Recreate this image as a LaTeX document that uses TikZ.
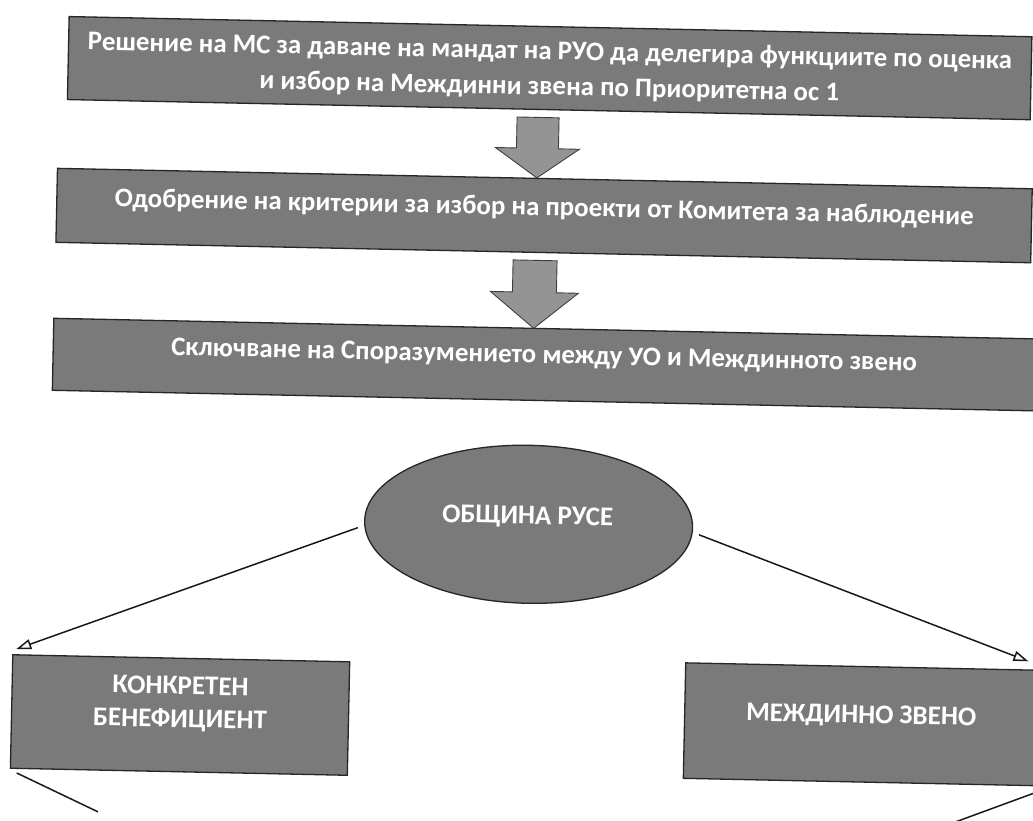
\documentclass[tikz,border=0pt]{standalone}
\usepackage{fontspec}
\setmainfont{Carlito}
\usetikzlibrary{arrows.meta,shapes.geometric}
\begin{document}
\begin{tikzpicture}[x=1pt,y=-1pt,
  box/.style={draw=black!85, line width=1.3pt, fill=black!52, inner sep=0pt},
  lbl/.style={text=white, font=\bfseries\fontsize{26.9}{35.5}\selectfont, inner sep=0pt, align=center},
  bigarrow/.style={draw=black!75, line width=0.9pt, fill=black!42},
  conn/.style={draw=black!90, line width=1.5pt},
  tipo/.style={-{Triangle[open,length=15pt,width=10pt,fill=white]}}]
\useasboundingbox (0,0) rectangle (1033,821);
\fill[white] (0,0) rectangle (1033,821);
\clip (0,0) rectangle (1033,821);
\begin{scope}[rotate around={-1.2:(516,410)}, transform shape]
  % top boxes
  \node[box, minimum width=963pt, minimum height=83pt] (b1) at (542.5,67.5) {};
  \node[lbl] (t1) at (542.5,69.5) {Решение на МС за даване на мандат на РУО да делегира функциите по оценка\\и избор на Междинни звена по Приоритетна ос 1};
  \node[box, minimum width=975pt, minimum height=74pt] (b2) at (540,215) {};
  \node[lbl] (t2) at (540,208) {Одобрение на критерии за избор на проекти от Комитета за наблюдение};
  \node[box, minimum width=982pt, minimum height=72pt] (b3) at (543,364) {};
  \node[lbl] (t3) at (543,356) {Сключване на Споразумението между УО и Междинното звено};
  % block arrows
  \coordinate (a1) at (532,117);
  \draw[bigarrow] (a1) ++(-21,0) -- ++(42,0) -- ++(0,31) -- ++(21,0) -- ++(-42,29.5) -- ++(-42,-29.5) -- ++(21,0) -- cycle;
  \coordinate (a2) at (532,260);
  \draw[bigarrow] (a2) ++(-22,0) -- ++(44,0) -- ++(0,32) -- ++(22,0) -- ++(-44,36) -- ++(-44,-36) -- ++(22,0) -- cycle;
  % ellipse
  \node[box, ellipse, minimum width=328pt, minimum height=158pt] (ell) at (531,524) {};
  \node[lbl, font=\bfseries\fontsize{27}{33}\selectfont] (te) at (530,517) {ОБЩИНА РУСЕ};
  % lower boxes
  \node[box, minimum width=337pt, minimum height=113.5pt] (kb) at (186.5,722) {};
  \node[lbl, font=\bfseries\fontsize{27}{33}\selectfont] (tk) at (186.5,711) {КОНКРЕТЕН\\БЕНЕФИЦИЕНТ};
  \node[box, minimum width=353pt, minimum height=115.5pt] (mz) at (867.5,717) {};
  \node[lbl, font=\bfseries\fontsize{27}{33}\selectfont] (tm) at (867.5,709) {МЕЖДИННО ЗВЕНО};
  % connectors
  \draw[conn, tipo] ([shift={(-6,7)}]ell.west) -- ([shift={(4,-5)}]kb.north west);
  \draw[conn, tipo] ([shift={(6,7)}]ell.east) -- ([shift={(-11,-8)}]mz.north east);
  \coordinate (lo1) at (106.5,820.6);
  \draw[conn] ([shift={(7,4)}]kb.south west) -- (lo1);
  \coordinate (lo2) at (925,828);
  \draw[conn] ([shift={(-3,7)}]mz.south east) -- (lo2);
\end{scope}
\end{tikzpicture}
\end{document}
